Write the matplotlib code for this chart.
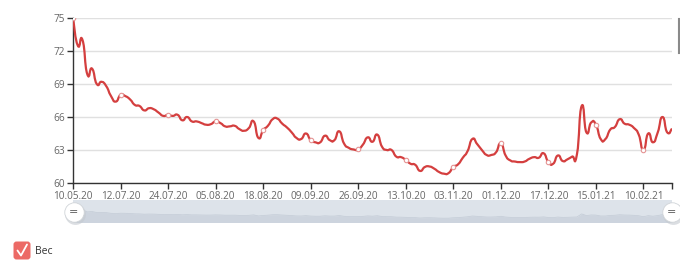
import matplotlib
matplotlib.use('Agg')
import matplotlib.pyplot as plt
from matplotlib.patches import FancyBboxPatch, PathPatch
from matplotlib.path import Path
from matplotlib.lines import Line2D
from matplotlib.transforms import IdentityTransform
import numpy as np

plt.rcParams['font.family'] = ['Open Sans', 'DejaVu Sans']

# weight readings, one per category on the x axis
weight = [
    75.0, 72.5, 73.0, 69.9, 70.4, 69.0, 69.2, 68.8, 67.9, 67.4,
    68.0, 67.9, 67.6, 67.1, 67.0, 66.6, 66.8, 66.7, 66.4, 66.1,
    66.2, 66.1, 66.2, 65.7, 66.0, 65.6, 65.6, 65.45, 65.3, 65.35,
    65.6, 65.45, 65.15, 65.15, 65.2, 64.9, 64.75, 65.0, 65.6, 64.1,
    64.8, 65.2, 65.8, 65.85, 65.4, 65.05, 64.6, 64.1, 64.0, 64.5,
    63.9, 63.7, 63.7, 64.3, 63.9, 63.9, 64.7, 63.6, 63.2, 63.05,
    63.05, 63.5, 64.15, 63.75, 64.4, 63.3, 63.0, 63.0, 62.4, 62.35,
    62.1, 61.75, 61.65, 61.1, 61.45, 61.5, 61.3, 61.0, 60.85, 60.9,
    61.45, 61.7, 62.3, 62.9, 64.0, 63.55, 63.0, 62.55, 62.55, 62.8,
    63.6, 62.5, 62.05, 61.95, 61.9, 61.95, 62.2, 62.35, 62.3, 62.7,
    61.9, 61.75, 62.5, 62.0, 62.15, 62.4, 62.6, 67.0, 64.6, 65.5,
    65.3, 64.0, 64.0, 64.85, 65.1, 65.8, 65.4, 65.3, 65.0, 64.4,
    63.0, 64.5, 63.7, 64.6, 66.0, 64.6, 64.95,
]
tick_labels = ['10.05.20', '12.07.20', '24.07.20', '05.08.20', '18.08.20',
               '09.09.20', '26.09.20', '13.10.20', '03.11.20', '01.12.20',
               '17.12.20', '15.01.21', '10.02.21']
y_ticks = [60, 63, 66, 69, 72, 75]
TICK_STEP = 10
legend_label = 'Вес'

LINE_COLOR = '#d43f3f'
W, H = 680, 267


def smooth_path(xs, ys, k=0.3):
    # bezier curve through every point, like a "smooth" line
    verts = [(xs[0], ys[0])]
    codes = [Path.MOVETO]
    n = len(xs)
    for i in range(n - 1):
        p0 = max(i - 1, 0)
        p3 = min(i + 2, n - 1)
        c1 = (xs[i] + (xs[i + 1] - xs[p0]) * k / 2, ys[i] + (ys[i + 1] - ys[p0]) * k / 2)
        c2 = (xs[i + 1] - (xs[p3] - xs[i]) * k / 2, ys[i + 1] - (ys[p3] - ys[i]) * k / 2)
        verts += [c1, c2, (xs[i + 1], ys[i + 1])]
        codes += [Path.CURVE4] * 3
    return Path(verts, codes)


fig = plt.figure(figsize=(W / 100, H / 100), dpi=100)
fig.patch.set_facecolor('white')

ax = fig.add_axes([73 / W, 1 - 183 / H, 599 / W, 165 / H])
x = np.arange(len(weight))
vals = np.array(weight)
ax.add_patch(PathPatch(smooth_path(x, vals, k=0.6), fc='none', ec=LINE_COLOR,
                       lw=1.6, joinstyle='round', zorder=3))
ax.plot(x[::TICK_STEP], vals[::TICK_STEP], 'o', ms=3.2, mfc='white',
        mec='#e59494', mew=0.8, zorder=4)

ax.set_xlim(0, len(weight) - 1)
ax.set_ylim(60, 75)
ax.set_yticks(y_ticks)
ax.set_xticks(x[::TICK_STEP][:len(tick_labels)])
ax.set_xticklabels(tick_labels)
ax.set_xticks([len(weight) - 1], minor=True)
ax.grid(axis='y', color='#e0e0e0', lw=1)
ax.set_axisbelow(True)
for s in ['top', 'right']:
    ax.spines[s].set_visible(False)
for s in ['left', 'bottom']:
    ax.spines[s].set_color('#333333')
    ax.spines[s].set_linewidth(1)
ax.tick_params(axis='both', which='both', colors='#333333', length=4, width=1,
               labelsize=7.2, labelcolor='#666666', pad=2)

# data zoom slider
sl = fig.add_axes([73 / W, 1 - 222 / H, 599 / W, 22 / H])
sl.set_facecolor('#dde3ea')
sl.fill_between(x, vals, 40, color='#cdd4de', lw=0)
sl.plot(x, vals, color='#c3cbd6', lw=0.5)
sl.set_xlim(0, len(weight) - 1)
sl.set_ylim(55.4, 86.9)
sl.set_xticks([])
sl.set_yticks([])
for s in sl.spines.values():
    s.set_visible(False)

for hx in [73.5, 672]:
    fig.add_artist(Line2D([hx + 1], [H - 213.5], transform=IdentityTransform(),
                          marker='o', ms=15, mfc='#c4c9cf', mec='none', alpha=0.6))
    fig.add_artist(Line2D([hx], [H - 211.5], transform=IdentityTransform(),
                          marker='o', ms=14, mfc='white', mec='#d0d4d8', mew=0.6))
    fig.text(hx / W, 1 - 212 / H, '=', ha='center', va='center', fontsize=8,
             color='#555555', family='DejaVu Sans')

# stray bar at the right edge
fig.add_artist(Line2D([679, 679], [H - 19, H - 53], transform=IdentityTransform(),
                      color='#8a8a8a', lw=1.5))

# legend
box = FancyBboxPatch((13.5, H - 259.5), 17, 18, boxstyle='round,pad=0,rounding_size=3',
                     transform=IdentityTransform(), fc='#ec6a66', ec='none')
fig.add_artist(box)
fig.add_artist(Line2D([17.5, 21, 27], [H - 250.5, H - 255.5, H - 244.5],
                      transform=IdentityTransform(), color='white', lw=1.3,
                      solid_capstyle='round', solid_joinstyle='round'))
fig.text(35 / W, 1 - 251 / H, legend_label, ha='left', va='center',
         fontsize=7.5, color='#333333')

fig.savefig('out.png', dpi=100)
